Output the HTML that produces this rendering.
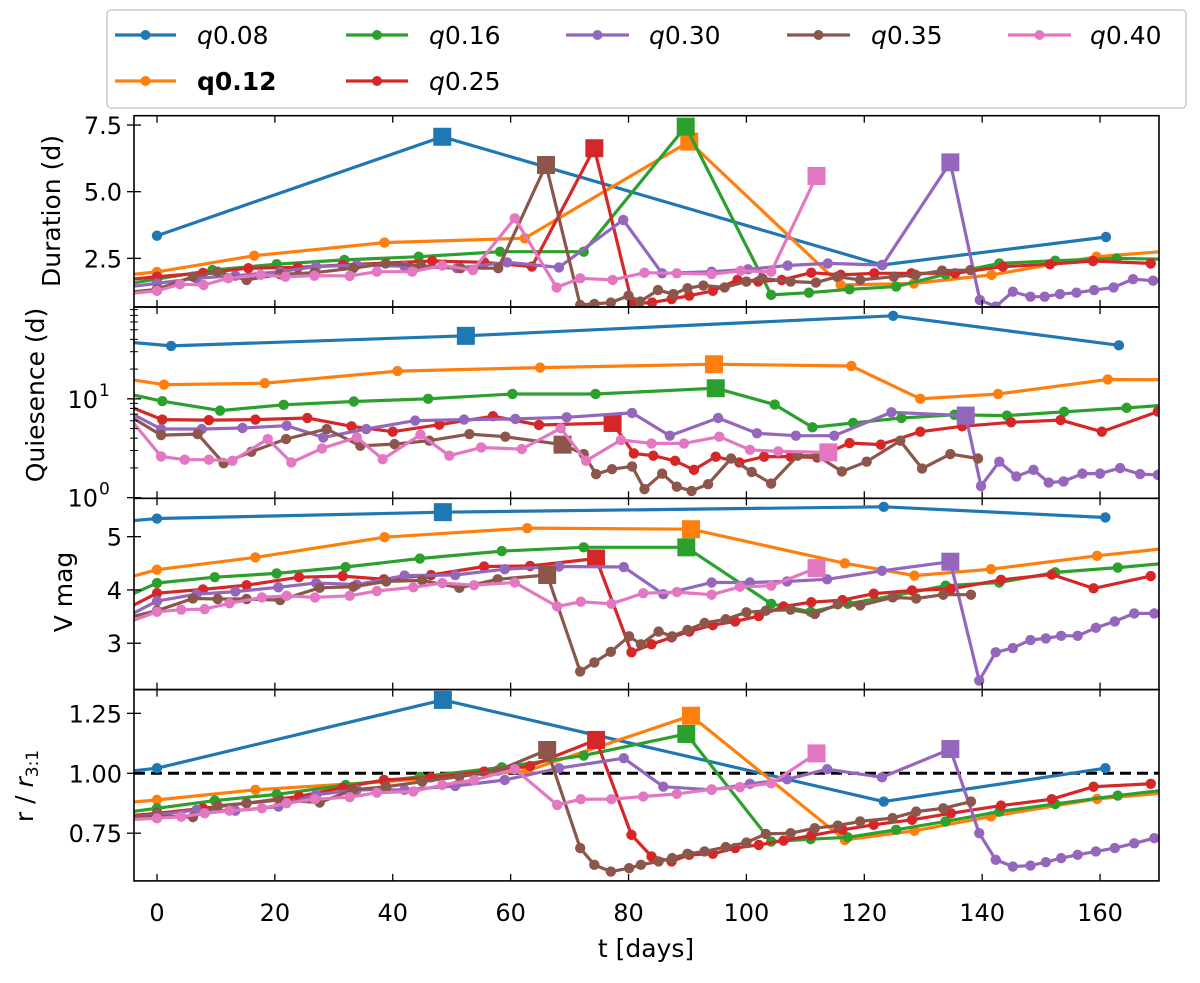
<!DOCTYPE html>
<html><head><meta charset="utf-8"><style>
html,body{margin:0;padding:0;background:#fff}
svg text{font-family:"DejaVu Sans","Liberation Sans",sans-serif}
</style></head><body>
<svg id="chart" xmlns="http://www.w3.org/2000/svg" width="1200" height="978" viewBox="0 0 1200 978"></svg>
<script>
// ---- data: colours & names
const NAMES=["q0.08","q0.12","q0.16","q0.25","q0.30","q0.35","q0.40"];
const COLORS=["#1f77b4","#ff7f0e","#2ca02c","#d62728","#9467bd","#8c564b","#e377c2"];
const X_TICKS=[0,20,40,60,80,100,120,140,160];
// ---- panel 1: duration
const DUR_T_008=[0,48.4,123,161];
const DUR_V_008=[3.35,7.06,2.25,3.3];
const DUR_T_012=[-5,0,16.5,38.6,62.4,90.3,116,128.4,141.6,159.4,172];
const DUR_V_012=[1.88,1.99,2.6,3.09,3.25,6.88,1.5,1.56,1.88,2.56,2.78];
const DUR_T_016=[-6,0,9.4,20.3,31.8,44.4,58.2,72.4,89.7,104.2,110.6,117.5,125.4,133.8,142.9,152.4,162.8,172];
const DUR_V_016=[1.5,1.72,2.06,2.28,2.44,2.56,2.75,2.75,7.44,1.13,1.21,1.34,1.44,1.9,2.31,2.41,2.5,2.46];
const DUR_T_025=[-6,0,7.8,15.5,23.9,31.5,46.7,55.5,63.6,74.2,80.6,84,87.3,90.3,94.3,98.5,102,106,111,116,121.7,128,135.4,143.5,151.5,158.8,168.6];
const DUR_V_025=[1.68,1.81,1.95,2.13,2.16,2.25,2.4,2.35,2.19,6.63,0.81,0.84,0.97,1.1,1.28,1.69,1.63,1.69,1.96,1.88,1.94,1.94,1.94,2.19,2.28,2.4,2.31];
const DUR_T_030=[-6,0,6.7,13.3,20.9,27,33.9,42,50.9,59.4,68.2,79.1,85.7,94.1,100.3,107,113.8,123.1,134.6,139.6,142.3,145.2,148.2,150.6,153.2,156,159,162.3,165.6,169];
const DUR_V_030=[1.4,1.56,1.75,1.85,2.0,2.19,2.25,2.2,2.13,2.35,2.16,3.94,1.94,2.0,2.09,2.23,2.31,2.25,6.1,0.94,0.69,1.25,1.06,1.06,1.16,1.21,1.31,1.41,1.72,1.66];
const DUR_T_035=[-6,0,6.1,10.3,15.2,20.9,26.7,33.3,38.8,44.8,51.5,57.9,66,71.8,74.2,77,80,82,85,87.6,90,92.7,96.3,100,102.7,107.5,111.8,115.4,119.3,125,128.7,133.2,138];
const DUR_V_035=[1.2,1.34,1.81,2.0,1.69,1.9,1.96,2.13,2.31,2.22,2.13,2.13,6.0,0.75,0.79,0.84,1.1,0.88,1.31,1.16,1.38,1.48,1.41,1.63,1.75,1.63,1.59,1.81,1.69,1.81,1.88,2.04,2.06];
const DUR_T_040=[-6,0,3.9,7.9,12.1,17.6,21.8,26.7,32.7,37.3,43.3,48.4,53.6,60.7,67.8,71.8,77.3,82.7,88.2,94.1,99,104.2,111.9];
const DUR_V_040=[1.15,1.28,1.53,1.5,1.75,1.88,1.81,1.85,1.84,2.0,2.0,2.23,2.06,4.0,1.41,1.75,1.69,1.96,1.94,1.91,2.03,2.0,5.59];
const DUR_SQ=[1,5,8,9,18,12,22];
// ---- panel 2: quiescence (log)
const QUI_T_008=[-6,2.4,52.4,124.9,163.2];
const QUI_V_008=[38,34.3,43.4,69.3,34.8];
const QUI_T_012=[-6,1.2,18.3,40.8,65,94.5,117.8,129.5,142.7,161.3,172];
const QUI_V_012=[16.2,13.9,14.4,19.1,20.7,22.4,21.5,10,11.2,15.7,15.6];
const QUI_T_016=[-6,0.9,10.7,21.5,33.4,46,60.3,74.4,94.8,104.8,111.2,118.1,126.3,135.3,144.2,153.9,164.5,172];
const QUI_V_016=[11.6,9.47,7.6,8.7,9.4,10,11.2,11.2,12.8,8.75,5.15,5.7,6.4,6.9,6.77,7.4,8.1,8.7];
const QUI_T_025=[-6,0.9,8.8,16.7,25.5,33,40,47.9,57,64.8,77.3,80.9,84.2,87.9,91.1,94.8,98.8,103,107.5,112,117.5,122.8,129.5,136.6,144.9,153.3,160.3,169.8];
const QUI_V_025=[9.0,6.17,6.1,6.17,6.4,5.27,4.65,5.48,6.67,5.44,5.7,2.8,2.66,2.36,1.91,2.6,2.27,2.6,2.6,2.55,3.57,3.44,4.65,5.27,5.79,6.1,4.65,7.43];
const QUI_T_030=[-6,0.7,7.6,14.5,22,28.2,35.5,43.8,52.1,60.8,69.5,80.6,87,95.2,101.8,108.4,114.9,124.6,137.2,139.8,142.9,145.8,148.7,151.3,153.8,157,160,163.4,166.8,169.8];
const QUI_V_030=[8,4.95,4.95,5.07,5.35,4.07,4.95,6.02,6.17,6.26,6.5,7.2,4.24,6.4,4.48,4.24,4.24,7.3,6.77,1.31,2.31,1.64,1.91,1.42,1.46,1.75,1.75,1.99,1.73,1.7];
const QUI_T_035=[-6,0.7,6.9,11.3,16,21.9,28.8,34.5,40.3,46.2,53,59.1,68.8,72.4,74.5,77.2,80.6,82.7,85.7,88.2,90.7,93.5,97.4,100.9,104.2,108.7,112,116.2,120.4,126.1,129.8,134.6,139.3];
const QUI_V_035=[7.5,4.3,4.4,2.23,2.91,3.92,4.95,3.35,3.48,3.77,4.4,4.14,3.44,2.76,1.73,1.94,2.07,1.22,1.75,1.29,1.17,1.37,2.49,1.82,1.39,2.66,2.66,1.84,2.31,3.77,1.97,2.76,2.49];
const QUI_T_040=[-6,0.7,4.7,8.8,12.8,18.8,22.8,28,33.9,38.3,44.7,49.6,55,61.9,68.5,72.8,78.7,83.9,89.4,95.4,100.6,105.4,113.9];
const QUI_V_040=[8,2.61,2.42,2.42,2.36,3.92,2.27,3.15,4.07,2.45,4.34,2.66,3.22,3.1,5.03,2.36,3.83,3.54,3.54,4.14,3.05,2.94,2.87];
const QUI_SQ=[2,5,8,10,18,12,22];
// ---- panels 3 & 4 share times
const T_008=[-6,0,48.5,123.3,160.9];
const T_012=[-6,0,16.7,38.6,62.8,90.6,116.7,128.5,141.5,159.5,172];
const T_016=[-6,0,9.8,20.3,32,44.6,58.5,72.4,89.8,104.2,110.9,117.2,125.4,133.8,142.9,152.4,163,172];
const T_025=[-6,0,7.8,15.2,24.1,31.5,38.5,46.5,55.5,63.3,74.5,80.5,83.9,87.3,90.3,94.3,98.1,102.1,106.3,111,116.3,121.6,128.1,134.7,143.2,151.8,158.9,168.6];
const T_030=[-6,0,6.7,13.3,20.6,27,33.9,42,50.6,59,68.2,79.2,85.9,94.1,100.6,106.9,113.7,123,134.6,139.5,142.3,145.2,148.2,150.8,153.4,156.2,159.3,162.5,165.8,169.2];
const T_035=[-6,0,6.1,10.3,15.2,20.9,27.6,33.3,38.9,45,51.3,57.8,66.2,71.8,74.2,77,80.1,82.1,85.1,87.4,90,92.9,96.5,100,103.3,107.5,111.6,115.5,119.3,124.8,128.8,133.4,138.1];
const T_040=[-6,0,4.1,8.1,12.3,17.8,22,26.8,32.7,37.3,43.5,48.4,53.8,60.7,67.9,71.9,77.1,82.5,88.2,94.1,98.9,104.2,111.9];
const VM_008=[5.28,5.34,5.46,5.56,5.36];
const VM_012=[4.2,4.38,4.61,4.99,5.16,5.14,4.5,4.27,4.39,4.64,4.79];
const VM_016=[3.83,4.13,4.24,4.31,4.43,4.59,4.73,4.8,4.8,3.74,3.59,3.74,3.9,4.08,4.14,4.33,4.42,4.51];
const VM_025=[3.6,3.94,4.01,4.09,4.24,4.26,4.2,4.28,4.44,4.45,4.59,2.83,2.98,3.11,3.22,3.34,3.41,3.51,3.69,3.77,3.81,3.93,3.99,4.02,4.19,4.29,4.03,4.26];
const VM_030=[3.45,3.79,3.92,3.97,4.05,4.13,4.1,4.27,4.28,4.39,4.44,4.43,3.92,4.14,4.14,4.16,4.2,4.36,4.53,2.3,2.83,2.91,3.06,3.09,3.14,3.14,3.29,3.41,3.56,3.56];
const VM_035=[3.45,3.61,3.84,3.83,3.83,3.81,4.04,4.06,4.16,4.18,4.04,4.2,4.28,2.47,2.64,2.84,3.13,2.98,3.22,3.13,3.25,3.38,3.45,3.58,3.61,3.63,3.55,3.73,3.71,3.86,3.84,3.91,3.91];
const VM_040=[3.35,3.59,3.63,3.64,3.75,3.86,3.89,3.86,3.89,3.98,4.05,4.13,4.09,4.14,3.69,3.78,3.74,3.94,3.96,3.91,4.06,4.08,4.41];
const R_008=[1.005,1.021,1.306,0.882,1.021];
const R_012=[0.875,0.889,0.931,0.965,1.01,1.24,0.722,0.76,0.82,0.893,0.92];
const R_016=[0.835,0.854,0.886,0.912,0.951,0.985,1.025,1.074,1.164,0.715,0.725,0.733,0.764,0.799,0.84,0.872,0.907,0.933];
const R_025=[0.82,0.833,0.854,0.875,0.903,0.94,0.972,0.983,1.007,1.03,1.139,0.743,0.653,0.632,0.66,0.664,0.688,0.701,0.719,0.74,0.764,0.785,0.806,0.833,0.865,0.892,0.944,0.956];
const R_030=[0.815,0.826,0.847,0.844,0.861,0.91,0.931,0.931,0.947,0.972,1.021,1.063,0.944,0.931,0.956,0.975,1.017,0.983,1.101,0.75,0.639,0.611,0.615,0.629,0.646,0.66,0.674,0.688,0.708,0.729];
const R_035=[0.815,0.822,0.817,0.864,0.875,0.889,0.878,0.931,0.944,0.965,0.986,1.011,1.097,0.688,0.618,0.59,0.604,0.618,0.632,0.646,0.664,0.674,0.692,0.711,0.747,0.75,0.771,0.782,0.799,0.813,0.84,0.854,0.882];
const R_040=[0.805,0.812,0.819,0.833,0.844,0.854,0.875,0.892,0.9,0.919,0.924,0.951,0.972,1.017,0.868,0.892,0.892,0.903,0.914,0.933,0.942,0.958,1.083];
const VR_SQ=[2,5,8,10,18,12,22];
const DUR_TICKS=[2.5,5.0,7.5];
const DUR_TICK_LABELS=["2.5","5.0","7.5"];
const VM_TICKS=[3,4,5];
const R_TICKS=[0.75,1.0,1.25];
const R_TICK_LABELS=["0.75","1.00","1.25"];
const R_REF=1.0;

const NS="http://www.w3.org/2000/svg";
const svg=document.getElementById('chart');
function mk(tag,attrs,parent){const e=document.createElementNS(NS,tag);for(const k in attrs)e.setAttribute(k,attrs[k]);(parent||svg).appendChild(e);return e;}
const XL=134,XR=1159,TMIN=-3.9,TMAX=170;
function xs(t){return XL+(t-TMIN)/(TMAX-TMIN)*(XR-XL);}
const PH=191.3,TOPS=[115.7,307,498.3,689.6];
function linScale(i,lo,hi){return v=>TOPS[i]+PH-(v-lo)/(hi-lo)*PH;}
function logScale(i,lo,hi){const a=Math.log10(lo),b=Math.log10(hi);return v=>TOPS[i]+PH-(Math.log10(v)-a)/(b-a)*PH;}
const Y=[linScale(0,0.675,7.85),logScale(1,0.985,85),linScale(2,2.13,5.72),linScale(3,0.551,1.349)];
const PANEL_NAMES=["duration-panel","quiescence-panel","vmag-panel","radius-panel"];
const TFS=24;

const defs=mk('defs',{});
for(let i=0;i<4;i++){const c=mk('clipPath',{id:'clip'+i},defs);mk('rect',{x:XL,y:TOPS[i],width:XR-XL,height:PH},c);}

function drawSeries(g,pi,k,T,V,sq){
  const y=Y[pi];
  const s=mk('g',{'clip-path':'url(#clip'+pi+')'},g);
  
  
  const pts=T.map((t,j)=>xs(t).toFixed(1)+','+y(V[j]).toFixed(1)).join(' ');
  const pl=mk('polyline',{points:pts,fill:'none',stroke:COLORS[k],'stroke-width':3.2,'stroke-linejoin':'round'},s);
  
  
  T.forEach((t,j)=>{
    if(j===sq){
      const r=mk('rect',{x:xs(t)-9,y:y(V[j])-9,width:18,height:18,fill:COLORS[k]},s);
      
      
    } else {
      const c=mk('circle',{cx:xs(t),cy:y(V[j]),r:5.2,fill:COLORS[k]},s);
      
      
    }
  });
}

function axisFrame(pi,yticks,labels,bottom){
  const g=mk('g',{});
  
  
  const top=TOPS[pi],bot=TOPS[pi]+PH;
  X_TICKS.forEach(t=>{
    mk('line',{x1:xs(t),x2:xs(t),y1:top,y2:top+7,stroke:'#000','stroke-width':1.3},g);
    mk('line',{x1:xs(t),x2:xs(t),y1:bot,y2:bot-7,stroke:'#000','stroke-width':1.3},g);
    if(bottom){const tx=mk('text',{x:xs(t),y:bot+40,'font-size':TFS,'text-anchor':'middle'},g);tx.textContent=String(t);
      }
  });
  yticks.forEach((v,j)=>{
    const yy=Y[pi](v);
    mk('line',{x1:XL,x2:XL+7,y1:yy,y2:yy,stroke:'#000','stroke-width':1.3},g);
    mk('line',{x1:XL-7,x2:XL,y1:yy,y2:yy,stroke:'#000','stroke-width':1.3},g);
    const tx=mk('text',{x:XL-12,y:yy+9,'font-size':TFS,'text-anchor':'end'},g);
    tx.textContent=labels[j];
    
    
  });
  return g;
}

const seriesSets=[
  [[DUR_T_008,DUR_V_008],[DUR_T_012,DUR_V_012],[DUR_T_016,DUR_V_016],[DUR_T_025,DUR_V_025],[DUR_T_030,DUR_V_030],[DUR_T_035,DUR_V_035],[DUR_T_040,DUR_V_040]],
  [[QUI_T_008,QUI_V_008],[QUI_T_012,QUI_V_012],[QUI_T_016,QUI_V_016],[QUI_T_025,QUI_V_025],[QUI_T_030,QUI_V_030],[QUI_T_035,QUI_V_035],[QUI_T_040,QUI_V_040]],
  [[T_008,VM_008],[T_012,VM_012],[T_016,VM_016],[T_025,VM_025],[T_030,VM_030],[T_035,VM_035],[T_040,VM_040]],
  [[T_008,R_008],[T_012,R_012],[T_016,R_016],[T_025,R_025],[T_030,R_030],[T_035,R_035],[T_040,R_040]]
];
const SQS=[DUR_SQ,QUI_SQ,VR_SQ,VR_SQ];

for(let pi=0;pi<4;pi++){
  const g=mk('g',{});
  
  
  if(pi===3){
    const d=mk('line',{x1:XL,x2:XR,y1:Y[3](R_REF),y2:Y[3](R_REF),stroke:'#000','stroke-width':3,'stroke-dasharray':'11,6'},g);
    
    
  }
  seriesSets[pi].forEach((p,k)=>drawSeries(g,pi,k,p[0],p[1],SQS[pi][k]));
}
// axes
axisFrame(0,DUR_TICKS,DUR_TICK_LABELS,false);
axisFrame(2,VM_TICKS,VM_TICKS.map(String),false);
axisFrame(3,R_TICKS,R_TICK_LABELS,true);
const g2=axisFrame(1,[],[],false);
[1,10].forEach((v,j)=>{
  const yy=Y[1](v);
  mk('line',{x1:XL-7,x2:XL+7,y1:yy,y2:yy,stroke:'#000','stroke-width':1.3},g2);
  const tx=mk('text',{x:98,y:yy+9,'font-size':TFS,'text-anchor':'end'},g2);
  tx.textContent='10';
  
  
  const sp=mk('text',{x:99,y:yy-3,'font-size':17,'text-anchor':'start'},g2);
  sp.textContent=String(j);
  
  
});
[2,3,4,5,6,7,8,9,20,30,40,50,60,70,80].forEach(v=>{
  const yy=Y[1](v);
  mk('line',{x1:XL-4,x2:XL+4,y1:yy,y2:yy,stroke:'#000','stroke-width':1},g2);
});
// frames
for(let pi=0;pi<4;pi++){
  const f=mk('rect',{x:XL,y:TOPS[pi],width:XR-XL,height:PH,fill:'none',stroke:'#000','stroke-width':1.6});
  
  
}
</script>
<svg style="position:absolute;left:0;top:0" width="1200" height="978">
  <text x="0" y="0" font-size="25" text-anchor="middle" transform="translate(60,211) rotate(-90)">Duration (d)</text>
  <text x="0" y="0" font-size="25" text-anchor="middle" transform="translate(44,395) rotate(-90)">Quiesence (d)</text>
  <text x="0" y="0" font-size="25" text-anchor="middle" transform="translate(72,592) rotate(-90)">V mag</text>
  <text x="0" y="0" font-size="25" text-anchor="middle" transform="translate(33,786) rotate(-90)">r / <tspan font-style="italic">r</tspan><tspan font-size="17" dy="5">3:1</tspan></text>
  <text x="646" y="957" font-size="25" text-anchor="middle">t [days]</text>
  <g>
    <rect x="107" y="10" width="1079" height="98" rx="4" fill="#fff" stroke="#ccc" stroke-width="1.5"/>
    <g><line x1="115" x2="176" y1="35" y2="35" stroke="#1f77b4" stroke-width="3.2"/><circle cx="145.5" cy="35" r="5" fill="#1f77b4"/><text x="197" y="44" font-size="25"><tspan font-style="italic">q</tspan>0.08</text></g>
    <g><line x1="115" x2="176" y1="81" y2="81" stroke="#ff7f0e" stroke-width="3.2"/><circle cx="145.5" cy="81" r="5" fill="#ff7f0e"/><text x="197" y="90" font-size="25" font-weight="bold">q0.12</text></g>
    <g><line x1="346" x2="408" y1="35" y2="35" stroke="#2ca02c" stroke-width="3.2"/><circle cx="377" cy="35" r="5" fill="#2ca02c"/><text x="429" y="44" font-size="25"><tspan font-style="italic">q</tspan>0.16</text></g>
    <g><line x1="346" x2="408" y1="81" y2="81" stroke="#d62728" stroke-width="3.2"/><circle cx="377" cy="81" r="5" fill="#d62728"/><text x="429" y="90" font-size="25"><tspan font-style="italic">q</tspan>0.25</text></g>
    <g><line x1="566" x2="629" y1="35" y2="35" stroke="#9467bd" stroke-width="3.2"/><circle cx="597.5" cy="35" r="5" fill="#9467bd"/><text x="649" y="44" font-size="25"><tspan font-style="italic">q</tspan>0.30</text></g>
    <g><line x1="787" x2="850" y1="35" y2="35" stroke="#8c564b" stroke-width="3.2"/><circle cx="818.5" cy="35" r="5" fill="#8c564b"/><text x="871" y="44" font-size="25"><tspan font-style="italic">q</tspan>0.35</text></g>
    <g><line x1="1008" x2="1071" y1="35" y2="35" stroke="#e377c2" stroke-width="3.2"/><circle cx="1039.5" cy="35" r="5" fill="#e377c2"/><text x="1090" y="44" font-size="25"><tspan font-style="italic">q</tspan>0.40</text></g>
  </g>
</svg>
</body></html>
